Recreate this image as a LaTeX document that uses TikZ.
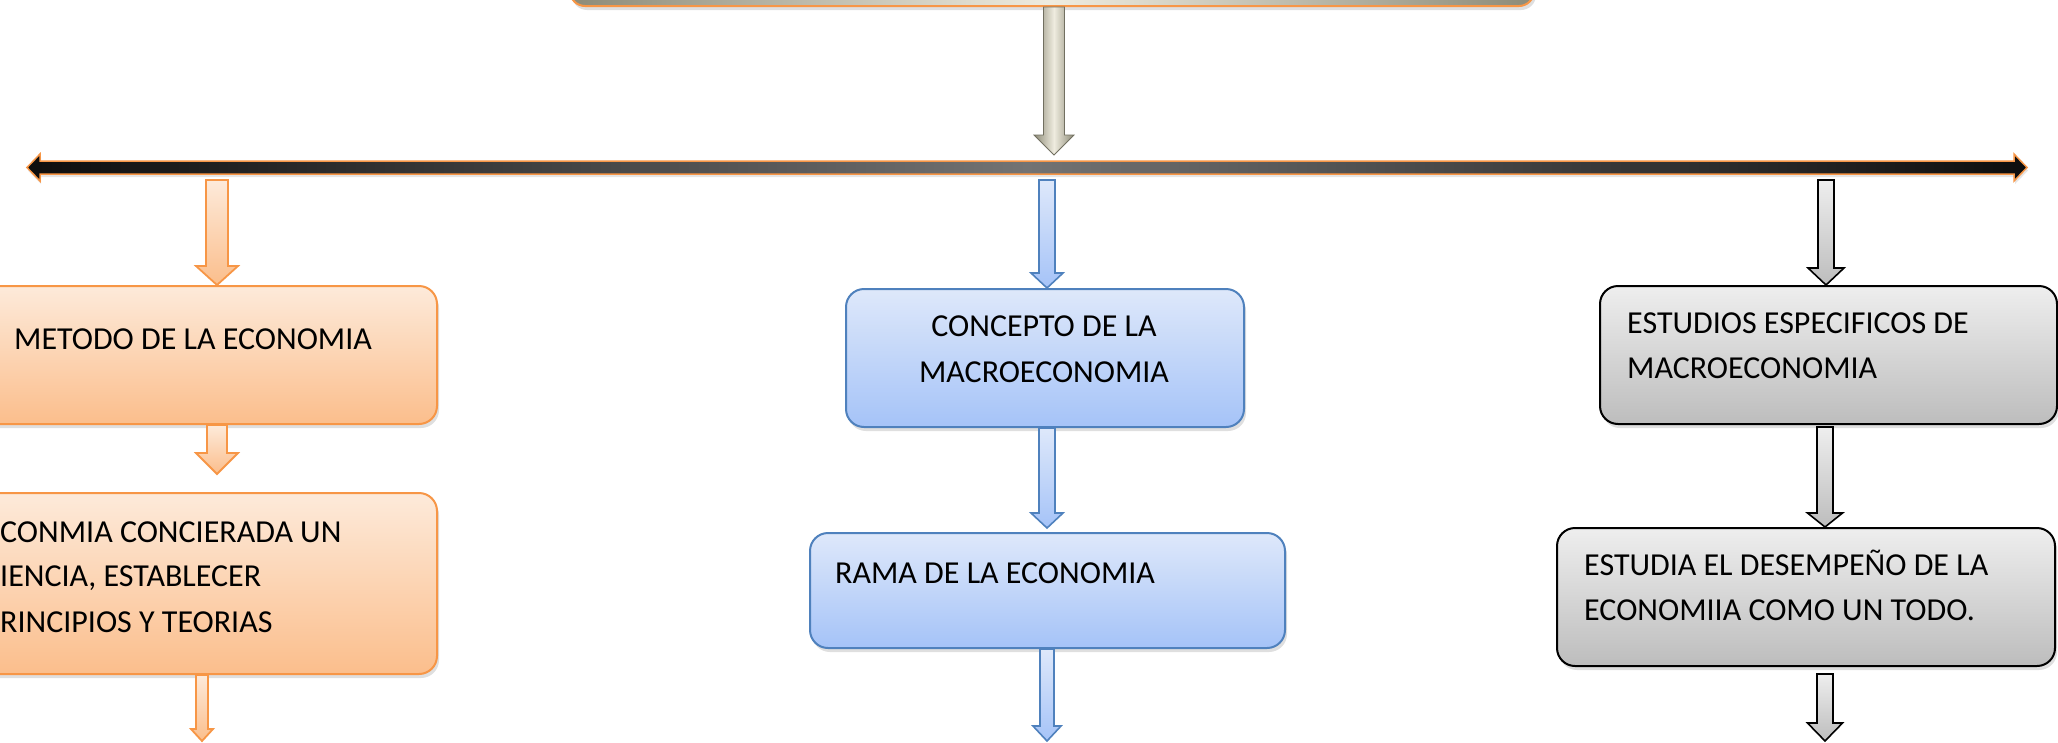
\documentclass[tikz,border=0pt]{standalone}
\usepackage{fontspec}
\setmainfont{Carlito}
\usetikzlibrary{calc,shadows}
\definecolor{orB}{HTML}{F79646}
\definecolor{orT}{HTML}{FDEADA}
\definecolor{orBot}{HTML}{FBBE8C}
\definecolor{blB}{HTML}{4F81BD}
\definecolor{blT}{HTML}{DEE8FA}
\definecolor{blBot}{HTML}{A5C3F8}
\definecolor{grT}{HTML}{EEEEEE}
\definecolor{grBot}{HTML}{BDBDBD}
\definecolor{metD}{HTML}{8D8B78}
\definecolor{metL}{HTML}{EFECDF}
\definecolor{barD}{HTML}{0D0D0D}
\definecolor{barM}{HTML}{737373}
\newcommand\blockarr[6]{\path[#1] let \p1=#2, \p2=#3 in
  (\x1-#4pt,\y1) -- (\x1+#4pt,\y1) -- (\x1+#4pt,\y2+#6pt) -- (\x1+#5pt,\y2+#6pt)
  -- (\x1,\y2) -- (\x1-#5pt,\y2+#6pt) -- (\x1-#4pt,\y2+#6pt) -- cycle;}
\tikzset{
  boxshadow/.style={drop shadow={shadow xshift=2pt,shadow yshift=-4pt,opacity=0.25}},
  basebox/.style={anchor=north west, inner sep=0pt, rounded corners=18pt, line width=2pt, boxshadow},
  obox/.style={basebox, draw=orB, top color=orT, bottom color=orBot},
  bbox/.style={basebox, draw=blB, top color=blT, bottom color=blBot},
  gbox/.style={basebox, draw=black, top color=grT, bottom color=grBot},
  topbox/.style={anchor=south west, inner sep=0pt, rounded corners=15pt, line width=2pt, draw=orB,
     left color=metD, right color=metD, middle color=metL, boxshadow},
  oarr/.style={draw=orB, line width=1.8pt, top color=orT, bottom color=orBot},
  barr/.style={draw=blB, line width=1.6pt, top color=blT, bottom color=blBot},
  garr/.style={draw=black, line width=1.6pt, top color=grT, bottom color=grBot},
  marr/.style={draw=metD!80!black, line width=0.8pt, left color=metD, right color=metD, middle color=metL},
  hbar/.style={draw=orB, line width=1.5pt, left color=barD, right color=barD, middle color=barM,
     drop shadow={shadow xshift=1pt,shadow yshift=-3pt,opacity=0.2}},
  txt/.style={anchor=base west, inner sep=0pt, text=black},
  ctxt/.style={anchor=base, inner sep=0pt, text=black},
}
\begin{document}
\begin{tikzpicture}[x=1pt,y=-1pt,font=\fontsize{32}{44}\selectfont]
\useasboundingbox (0,0) rectangle (2058,742);
\clip (0,0) rectangle (2058,742);
\fill[white] (0,0) rectangle (2058,742);

% top box
\node[topbox, minimum width=964pt, minimum height=150pt] (top) at (569,7) {};

% horizontal double arrow
\coordinate (barL) at (27,167.5);
\coordinate (barR) at (2027,167.5);
\path[hbar] let \p1=(barL), \p2=(barR) in
  (\x1,\y1) -- (\x1+13pt,\y1+13.5pt) -- (\x1+13pt,\y1+6.5pt) -- (\x2-13pt,\y2+6.5pt)
  -- (\x2-13pt,\y2+13.5pt) -- (\x2,\y2) -- (\x2-13pt,\y2-13.5pt) -- (\x2-13pt,\y2-6.5pt)
  -- (\x1+13pt,\y1-6.5pt) -- (\x1+13pt,\y1-13.5pt) -- cycle;

% main arrow
\coordinate (barTop) at (1054,155);
\blockarr{marr}{(1054,0 |- top.south)}{(barTop)}{10.5}{20}{20}

% boxes
\node[obox, minimum width=476pt, minimum height=138pt] (metodo) at (-40,285) {};
\node[obox, minimum width=476pt, minimum height=181pt] (princ) at (-40,492) {};
\node[bbox, minimum width=398pt, minimum height=138pt] (concepto) at (845,288) {};
\node[bbox, minimum width=475pt, minimum height=115pt] (rama) at (809,532) {};
\node[gbox, minimum width=457pt, minimum height=138pt] (estud) at (1599,285) {};
\node[gbox, minimum width=498pt, minimum height=138pt] (estudia) at (1556,527) {};

% texts
\node[txt] (t1) at (14,349) {METODO DE LA ECONOMIA};
\node[txt] (t2a) at (0,542) {CONMIA CONCIERADA UN};
\node[txt] (t2b) at (0,586) {IENCIA, ESTABLECER};
\node[txt] (t2c) at (0,632) {RINCIPIOS Y TEORIAS};
\node[ctxt] (t3a) at (1044,336) {CONCEPTO DE LA};
\node[ctxt] (t3b) at (1044,382) {MACROECONOMIA};
\node[txt] (t4) at (835,583) {RAMA DE LA ECONOMIA};
\node[txt] (t5a) at (1627,333) {ESTUDIOS ESPECIFICOS DE};
\node[txt] (t5b) at (1627,378) {MACROECONOMIA};
\node[txt] (t6a) at (1584,575) {ESTUDIA EL DESEMPEÑO DE LA};
\node[txt] (t6b) at (1584,620) {ECONOMIIA COMO UN TODO.};

% arrow start/end coordinates
\coordinate (sL) at (217,180);
\coordinate (sM) at (1047,180);
\coordinate (sR) at (1826,180);
\coordinate (eL) at (202,741);
\coordinate (eM) at (1047,741);
\coordinate (eR) at (1825,741);

% left column arrows
\blockarr{oarr}{(sL)}{(217,0 |- metodo.north)}{11}{21}{19}
\blockarr{oarr}{(217,0 |- metodo.south)}{($(217,0 |- princ.north)+(0,-18)$)}{10}{21}{21}
\blockarr{oarr}{(202,0 |- princ.south)}{(eL)}{6}{11}{12}

% middle column arrows
\blockarr{barr}{(sM)}{(1047,0 |- concepto.north)}{8}{16}{15}
\blockarr{barr}{(1047,0 |- concepto.south)}{($(1047,0 |- rama.north)+(0,-4)$)}{8}{16}{15}
\blockarr{barr}{(1047,0 |- rama.south)}{(eM)}{7}{14}{15}

% right column arrows
\blockarr{garr}{(sR)}{(1826,0 |- estud.north)}{8}{18}{17}
\blockarr{garr}{($(1825,0 |- estud.south)+(0,2)$)}{(1825,0 |- estudia.north)}{8}{17.5}{14}
\blockarr{garr}{($(1825,0 |- estudia.south)+(0,7)$)}{(eR)}{8}{17.5}{18}
\end{tikzpicture}
\end{document}
